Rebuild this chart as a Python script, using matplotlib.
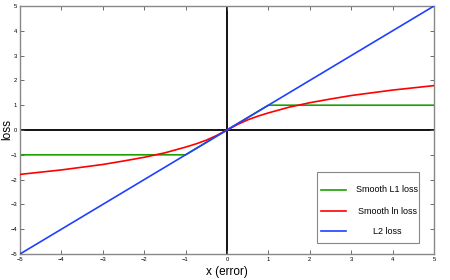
import matplotlib
matplotlib.use("Agg")
import matplotlib.pyplot as plt
from matplotlib.patches import Rectangle
from matplotlib.lines import Line2D

# data
l2_x = [-5, 5]
l2_y = [-5, 5]
l1_x = [-5, -1, 1, 5]
l1_y = [-1, -1, 1, 1]
ln_x = [-5, -4.5, -4, -3.5, -3, -2.5, -2, -1.5, -1, -0.75, -0.5, -0.25, 0,
        0.25, 0.5, 0.75, 1, 1.5, 2, 2.5, 3, 3.5, 4, 4.5, 5]
ln_y = [-1.79, -1.70, -1.61, -1.50, -1.39, -1.25, -1.10, -0.92, -0.69, -0.56, -0.41, -0.22, 0,
        0.22, 0.41, 0.56, 0.69, 0.92, 1.10, 1.25, 1.39, 1.50, 1.61, 1.70, 1.79]
ticks = [-5, -4, -3, -2, -1, 0, 1, 2, 3, 4, 5]
names = ['Smooth L1 loss', 'Smooth ln loss', 'L2 loss']
colors = ['#1aa000', '#ff0000', '#2040ff']

plt.rcParams['font.family'] = ['Liberation Sans', 'DejaVu Sans']
W, H = 450, 280
fig = plt.figure(figsize=(4.5, 2.8), dpi=100)
ax = fig.add_axes([20/W, 1-254/H, 414/W, 248/H])

ax.axhline(0, color='black', lw=1.3, zorder=1)
ax.axvline(0, color='black', lw=1.3, zorder=1)
ax.plot(l1_x, l1_y, color=colors[0], lw=1.2, zorder=2)
ax.plot(ln_x, ln_y, color=colors[1], lw=1.2, zorder=3)
ax.plot(l2_x, l2_y, color=colors[2], lw=1.2, zorder=4)

ax.set_xlim(-5, 5)
ax.set_ylim(-5, 5)
ax.set_xticks(ticks)
ax.set_yticks(ticks)
ax.set_xticklabels([str(t).replace('-', '\u2212') for t in ticks])
ax.set_yticklabels([str(t).replace('-', '\u2212') for t in ticks])
ax.tick_params(direction='in', length=3, width=0.6, labelsize=4.2, colors='#555555',
               top=True, right=True, pad=2)
ax.tick_params(labelcolor='black')
for s in ax.spines.values():
    s.set_color('#888888')
    s.set_linewidth(1.0)
ax.set_xlabel('x (error)', fontsize=8.5, labelpad=3)
fig.text(1/W, 1-130/H, 'loss', rotation=90, fontsize=8.5, ha='left', va='center')

# manual legend (centered labels as in the reference)
fig.patches.append(Rectangle((317/W, 1-243/H), 102/W, 71/H, transform=fig.transFigure,
                             facecolor='white', edgecolor='#888888', lw=0.8, zorder=10))
ys = [190, 211, 231]
for name, c, yp in zip(names, colors, ys):
    fig.lines.append(Line2D([321/W, 346/W], [1-yp/H, 1-yp/H], transform=fig.transFigure,
                            color=c, lw=1.2, zorder=11))
    fig.text(387/W, 1-yp/H, name, fontsize=6.5, ha='center', va='center', zorder=12)

fig.savefig('out.png', dpi=100)
